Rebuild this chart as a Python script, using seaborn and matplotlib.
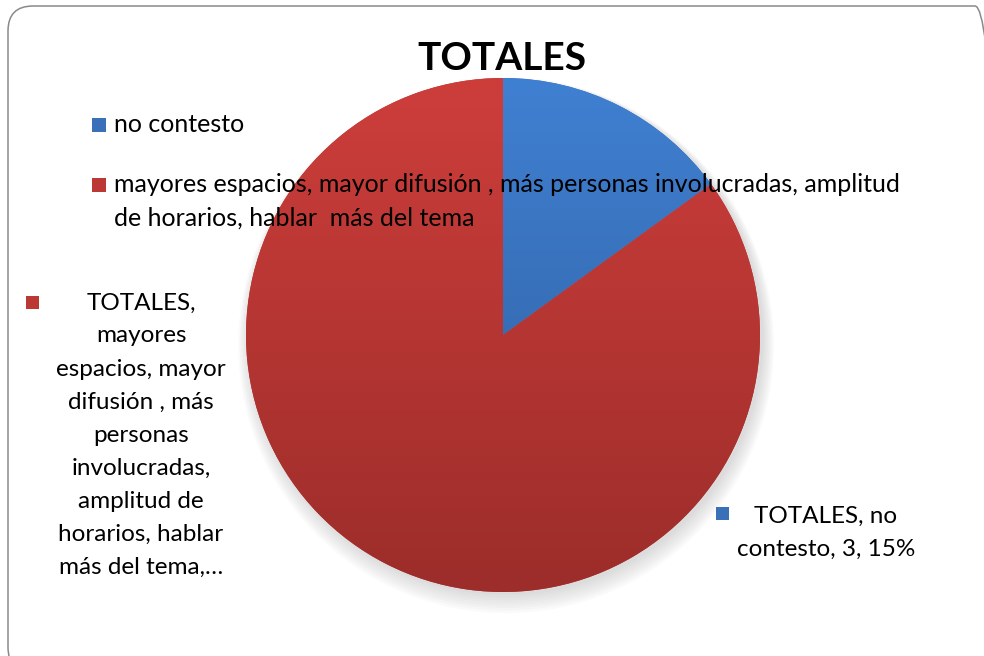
import numpy as np
import matplotlib
matplotlib.use("Agg")
import matplotlib.pyplot as plt
import seaborn as sns
from matplotlib.patches import FancyBboxPatch, Rectangle, Circle
from matplotlib.colors import LinearSegmentedColormap

# ── datos ───────────────────────────────────────────────────────────────────
SERIES = "TOTALES"
CATEGORIES = [
    "no contesto",
    "mayores espacios, mayor difusión , más personas involucradas, amplitud de horarios, hablar  más del tema",
]
VALUES = [3, 17]
LEGEND_LINES = [
    ["no contesto"],
    ["mayores espacios, mayor difusión , más personas involucradas, amplitud",
     "de horarios, hablar  más del tema"],
]
# etiqueta recortada tal como sale en Excel
RED_LABEL_LINES = ["TOTALES,", "mayores", "espacios, mayor", "difusión , más", "personas",
                   "involucradas,", "amplitud de", "horarios, hablar", "más del tema,…"]

TOP_COLORS = ["#4080d2", "#cd3e3b"]
BOTTOM_COLORS = ["#2d5c9a", "#9c2d2a"]
MID_COLORS = ["#3a70b8", "#bb3835"]

sns.set_theme(style="white")
plt.rcParams["font.family"] = ["Lato", "DejaVu Sans"]

W, H = 984, 656
fig = plt.figure(figsize=(W / 100, H / 100), dpi=100)
fig.patch.set_facecolor("white")


def fx(px):
    return px / W


def fy(py):
    return 1 - py / H


# marco redondeado (se sale por la derecha y por abajo)
frame = FancyBboxPatch((0.08, -0.16), 9.92, 6.66, boxstyle="round,pad=0,rounding_size=0.25",
                       transform=fig.dpi_scale_trans, facecolor="none",
                       edgecolor="#8a8a8a", linewidth=1.1, zorder=-1)
fig.patches.append(frame)

# ── pie ─────────────────────────────────────────────────────────────────────
cx, cy, r = 503, 335, 257
ax = fig.add_axes([fx(cx - r), fy(cy + r), 2 * r / W, 2 * r / H])
ax.set_axis_off()
ax.patch.set_alpha(0)

# sombra suave
for i in range(8):
    ax.add_patch(Circle((0.012, -0.012 - 0.004 * i), 1.0 + 0.006 * i, color="#7f7f7f",
                        alpha=0.035, linewidth=0, zorder=0, clip_on=False))

wedges, _ = ax.pie(VALUES, startangle=90, counterclock=False, radius=1,
                   colors=MID_COLORS, wedgeprops={"linewidth": 0})
grad = np.linspace(0, 1, 256).reshape(-1, 1)
for w, top, bot in zip(wedges, TOP_COLORS, BOTTOM_COLORS):
    cmap = LinearSegmentedColormap.from_list("g", [top, bot])
    im = ax.imshow(grad, cmap=cmap, extent=(-1, 1, -1, 1), origin="upper",
                   aspect="auto", zorder=2)
    im.set_clip_path(w)
ax.set_xlim(-1, 1)
ax.set_ylim(-1, 1)

# ── título ──────────────────────────────────────────────────────────────────
fig.text(fx(502), fy(58), SERIES, ha="center", va="center", fontsize=28,
         fontweight="bold", color="black")

# ── leyenda ─────────────────────────────────────────────────────────────────
FS = 17.5
legend_y = [125, 185]
for lines, y0, col in zip(LEGEND_LINES, legend_y, MID_COLORS):
    fig.patches.append(Rectangle((fx(92), fy(y0 + 7)), fx(14), 14 / H,
                                 transform=fig.transFigure, facecolor=col,
                                 edgecolor="none", zorder=5))
    for i, line in enumerate(lines):
        fig.text(fx(114), fy(y0 + 33 * i), line, ha="left", va="center",
                 fontsize=18, color="black", zorder=6)

# ── etiquetas de datos ──────────────────────────────────────────────────────
total = sum(VALUES)
pct = [round(100 * v / total) for v in VALUES]
blue_label = f"{SERIES}, {CATEGORIES[0]}, {VALUES[0]}, {pct[0]}%"
blue_lines = ["TOTALES, no", blue_label[len("TOTALES, no "):]]

fig.patches.append(Rectangle((fx(716), fy(520)), fx(13), 13 / H, transform=fig.transFigure,
                             facecolor=MID_COLORS[0], edgecolor="none", zorder=5))
for i, line in enumerate(blue_lines):
    fig.text(fx(826), fy(516 + 33 * i), line, ha="center", va="center",
             fontsize=FS, color="black", zorder=6)

fig.patches.append(Rectangle((fx(26), fy(309)), fx(13), 13 / H, transform=fig.transFigure,
                             facecolor=MID_COLORS[1], edgecolor="none", zorder=5))
for i, line in enumerate(RED_LABEL_LINES):
    fig.text(fx(141), fy(303 + 33 * i), line, ha="center", va="center",
             fontsize=FS, color="black", zorder=6)

fig.savefig("out.png", dpi=100, facecolor=fig.get_facecolor())
plt.close(fig)
